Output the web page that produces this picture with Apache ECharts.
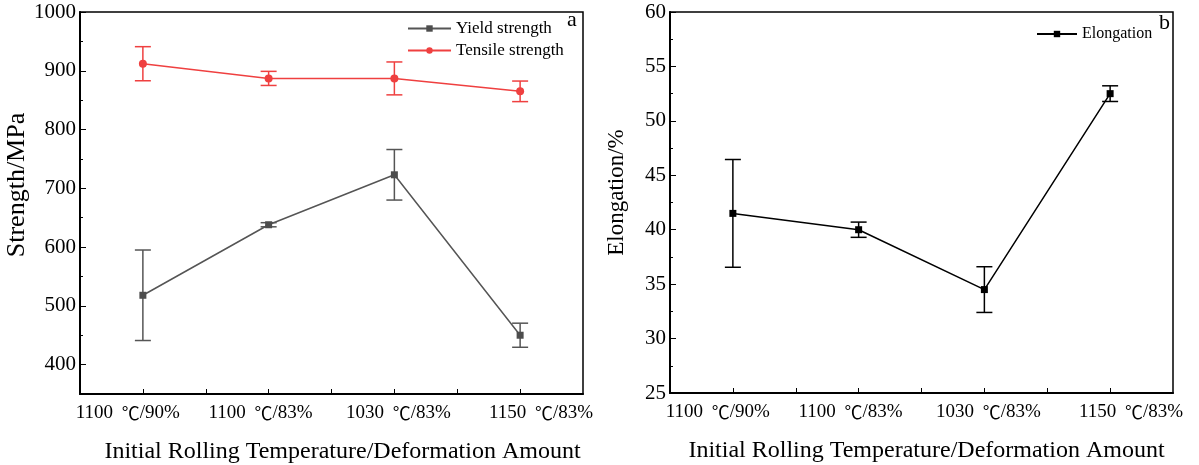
<!DOCTYPE html>
<html>
<head>
<meta charset="utf-8">
<script src="https://cdn.jsdelivr.net/npm/echarts@6/dist/echarts.min.js"></script>
<style>
  html, body { margin: 0; padding: 0; background: #fff; }
  #main { width: 1199px; height: 465px; }
</style>
</head>
<body>
<div id="main"></div>
<script>
var categories = ['1100 ℃/90%', '1100 ℃/83%', '1030 ℃/83%', '1150 ℃/83%'];
var yieldStrength = [518, 638, 723, 450];
var yieldErr = [77, 3.5, 43, 20.5];
var tensileStrength = [912, 887, 887, 865];
var tensileErr = [29, 12, 28, 17.5];
var elongation = [41.5, 40.0, 34.5, 52.5];
var elongationErr = [4.95, 0.7, 2.1, 0.72];
var strengthTicks = [400, 500, 600, 700, 800, 900, 1000];

var FONT = "'Liberation Serif', 'Noto Sans CJK SC', serif";
var CJK = "'Noto Sans CJK SC', 'Liberation Serif', serif";
// labels in the source sit a bit off their ticks
var labelShift = [-15, -8, 4, 21];

var rich = {
	c: { fontFamily: CJK, fontSize: 18, color: '#000', padding: [0, 0, 0, 4] }
};
labelShift.forEach(function (d, i) {
	rich['s' + i] = { fontFamily: FONT, fontSize: 19, color: '#000', padding: d > 0 ? [0, 0, 0, 2 * d] : 0 };
	rich['e' + i] = { fontFamily: FONT, fontSize: 19, color: '#000', padding: d < 0 ? [0, -2 * d, 0, 0] : 0 };
});

function pts(values) {
	return values.map(function (v, i) { return [i, v]; });
}
function bars(values, errs) {
	return values.map(function (v, i) { return [i, v - errs[i], v + errs[i]]; });
}

function errorBars(color) {
	return function (params, api) {
		var x = api.value(0);
		var lo = api.coord([x, api.value(1)]);
		var hi = api.coord([x, api.value(2)]);
		var w = 8;
		var st = { stroke: color, lineWidth: 1.5 };
		return {
			type: 'group',
			children: [
				{ type: 'line', shape: { x1: lo[0], y1: lo[1], x2: hi[0], y2: hi[1] }, style: st },
				{ type: 'line', shape: { x1: lo[0] - w, y1: lo[1], x2: lo[0] + w, y2: lo[1] }, style: st },
				{ type: 'line', shape: { x1: hi[0] - w, y1: hi[1], x2: hi[0] + w, y2: hi[1] }, style: st }
			]
		};
	};
}

function xAxis(gridIndex, namePad) {
	return {
		type: 'value',
		gridIndex: gridIndex,
		min: -0.5,
		max: 3.5,
		interval: 0.5,
		name: 'Initial Rolling Temperature/Deformation Amount',
		nameLocation: 'middle',
		nameGap: 46,
		nameTextStyle: { fontFamily: FONT, fontSize: 24, color: '#000', padding: [0, 0, 0, namePad] },
		splitLine: { show: false },
		axisLine: { onZero: false, lineStyle: { color: '#000', width: 2 } },
		axisTick: { inside: true, length: 5, lineStyle: { color: '#000', width: 1 } },
		axisLabel: {
			margin: 10,
			showMinLabel: false,
			showMaxLabel: false,
			formatter: function (v) {
				var i = Math.round(v);
				if (Math.abs(v - i) > 1e-6 || i < 0 || i >= categories.length) return '';
				var parts = categories[i].split('℃');
				return '{s' + i + '|' + parts[0] + '}{c|℃}{e' + i + '|' + parts[1] + '}';
			},
			rich: rich
		}
	};
}

var chart = echarts.init(document.getElementById('main'));

var option = {
	animation: false,
	backgroundColor: '#fff',
	textStyle: { fontFamily: FONT },
	title: [
		{ text: 'a', left: 567, top: 9, padding: 0, textStyle: { fontFamily: FONT, fontSize: 22, fontWeight: 'normal', color: '#000' } },
		{ text: 'b', left: 1159, top: 12, padding: 0, textStyle: { fontFamily: FONT, fontSize: 22, fontWeight: 'normal', color: '#000' } }
	],
	legend: [
		{
			data: ['Yield strength', 'Tensile strength'],
			orient: 'vertical',
			left: 407,
			top: 20,
			padding: 0,
			itemGap: 5,
			itemWidth: 43,
			itemHeight: 8,
			textStyle: { fontFamily: FONT, fontSize: 17, color: '#000' }
		},
		{
			data: ['Elongation'],
			left: 1036,
			top: 26,
			padding: 0,
			itemWidth: 40,
			itemHeight: 8,
			textStyle: { fontFamily: FONT, fontSize: 16, color: '#000' }
		}
	],
	grid: [
		{ left: 80, right: 616, top: 12, bottom: 71, outerBoundsMode: 'none', show: true, borderColor: '#000', borderWidth: 1.5 },
		{ left: 670, right: 26, top: 12, bottom: 72, outerBoundsMode: 'none', show: true, borderColor: '#000', borderWidth: 1.5 }
	],
	xAxis: [xAxis(0, 22), xAxis(1, 10)],
	yAxis: [
		{
			type: 'value',
			gridIndex: 0,
			position: 'left',
			min: 350,
			max: 1000,
			interval: 50,
			name: 'Strength/MPa',
			nameLocation: 'middle',
			nameGap: 50,
			nameTextStyle: { fontFamily: FONT, fontSize: 26, color: '#000', padding: [0, 0, 0, 36] },
			splitLine: { show: false },
			axisLine: { onZero: false, lineStyle: { color: '#000', width: 2 } },
			axisTick: { inside: true, length: 3, lineStyle: { color: '#000' } },
			axisLabel: {
				margin: 4,
				fontFamily: FONT,
				fontSize: 21,
				color: '#000',
				formatter: function (v) { return strengthTicks.indexOf(v) >= 0 ? String(v) : ''; }
			}
		},
		{
			// overlay axis: longer ticks on the labelled values
			type: 'value',
			gridIndex: 0,
			position: 'left',
			min: 350,
			max: 1000,
			interval: 50,
			splitLine: { show: false },
			axisLine: { show: false, onZero: false },
			axisLabel: { show: false },
			axisTick: { inside: true, length: 6, customValues: strengthTicks, lineStyle: { color: '#000' } }
		},
		{
			type: 'value',
			gridIndex: 1,
			position: 'left',
			min: 25,
			max: 60,
			interval: 5,
			name: 'Elongation/%',
			nameLocation: 'middle',
			nameGap: 42,
			nameTextStyle: { fontFamily: FONT, fontSize: 23, color: '#000', padding: [0, 0, 0, 20] },
			splitLine: { show: false },
			axisLine: { onZero: false, lineStyle: { color: '#000', width: 2 } },
			axisTick: { inside: true, length: 6, lineStyle: { color: '#000' } },
			minorTick: { show: true, splitNumber: 2, length: 3, lineStyle: { color: '#000' } },
			minorSplitLine: { show: false },
			axisLabel: { margin: 4, fontFamily: FONT, fontSize: 21, color: '#000' }
		}
	],
	series: [
		{
			type: 'custom',
			xAxisIndex: 0,
			yAxisIndex: 0,
			renderItem: errorBars('#555'),
			encode: { x: 0, y: [1, 2] },
			data: bars(yieldStrength, yieldErr),
			z: 1
		},
		{
			type: 'custom',
			xAxisIndex: 0,
			yAxisIndex: 0,
			renderItem: errorBars('#ef4040'),
			encode: { x: 0, y: [1, 2] },
			data: bars(tensileStrength, tensileErr),
			z: 1
		},
		{
			name: 'Yield strength',
			type: 'line',
			xAxisIndex: 0,
			yAxisIndex: 0,
			symbol: 'rect',
			symbolSize: 7,
			itemStyle: { color: '#4d4d4d' },
			lineStyle: { color: '#555', width: 1.5 },
			data: pts(yieldStrength),
			z: 3
		},
		{
			name: 'Tensile strength',
			type: 'line',
			xAxisIndex: 0,
			yAxisIndex: 0,
			symbol: 'circle',
			symbolSize: 8,
			itemStyle: { color: '#ef4040' },
			lineStyle: { color: '#ef4040', width: 1.5 },
			data: pts(tensileStrength),
			z: 3
		},
		{
			type: 'custom',
			xAxisIndex: 1,
			yAxisIndex: 2,
			renderItem: errorBars('#000'),
			encode: { x: 0, y: [1, 2] },
			data: bars(elongation, elongationErr),
			z: 1
		},
		{
			name: 'Elongation',
			type: 'line',
			xAxisIndex: 1,
			yAxisIndex: 2,
			symbol: 'rect',
			symbolSize: 7,
			itemStyle: { color: '#000' },
			lineStyle: { color: '#000', width: 1.5 },
			data: pts(elongation),
			z: 3
		}
	]
};

chart.setOption(option);
</script>
</body>
</html>
